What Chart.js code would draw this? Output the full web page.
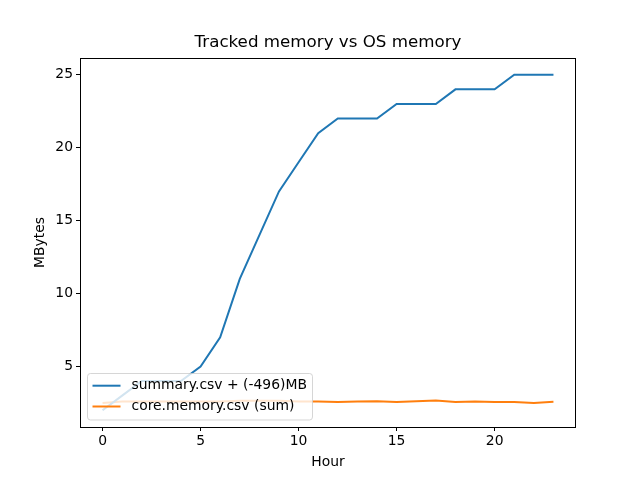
<!DOCTYPE html>
<html>
<head>
<meta charset="utf-8">
<script src="https://cdn.jsdelivr.net/npm/chart.js@4/dist/chart.umd.min.js"></script>
<style>
html,body{margin:0;padding:0;background:#fff;}
#wrap{width:640px;height:480px;}
</style>
</head>
<body>
<div id="wrap"><canvas id="c" width="640" height="480"></canvas></div>
<script>
const hours = [0,1,2,3,4,5,6,7,8,9,10,11,12,13,14,15,16,17,18,19,20,21,22,23];
const summaryMB = [2,3,4,4,4,5,7,11,14,17,19,21,22,22,22,23,23,23,24,24,24,25,25,25];
const coreMemorySum = [2.5,2.6,2.6,2.6,2.6,2.6,2.6,2.65,2.65,2.65,2.6,2.6,2.57,2.6,2.62,2.56,2.62,2.66,2.56,2.6,2.57,2.57,2.5,2.58];
const xTicks = [0,5,10,15,20];
const yTicks = [5,10,15,20,25];
const seriesNames = ["summary.csv + (-496)MB", "core.memory.csv (sum)"];
const titleText = "Tracked memory vs OS memory";
const xLabel = "Hour";
const yLabel = "MBytes";

const FONT = "'DejaVu Sans', sans-serif";
const colors = ["#1f77b4", "#ff7f0e"];

const decor = {
  id: 'decor',
  afterDatasetsDraw(chart) {
    const ctx = chart.ctx, a = chart.chartArea;
    ctx.save();
    // frame
    ctx.strokeStyle = '#000';
    ctx.lineWidth = 1;
    ctx.strokeRect(Math.round(a.left)+0.5, Math.round(a.top)+0.5, Math.round(a.right-a.left)-1, Math.round(a.bottom-a.top));
    // title
    ctx.fillStyle = '#000';
    ctx.font = '16.7px ' + FONT;
    ctx.textAlign = 'center';
    ctx.textBaseline = 'middle';
    ctx.fillText(titleText, (a.left+a.right)/2, 43);
    // axis labels
    ctx.font = '13.9px ' + FONT;
    ctx.fillText(xLabel, (a.left+a.right)/2, 462);
    ctx.save();
    ctx.translate(40, (a.top+a.bottom)/2);
    ctx.rotate(-Math.PI/2);
    ctx.fillText(yLabel, 0, 0);
    ctx.restore();
    // legend
    const lx = 87.5, ly = 373.5, lw = 225, lh = 46.5, r = 3;
    ctx.beginPath();
    ctx.moveTo(lx+r, ly);
    ctx.lineTo(lx+lw-r, ly); ctx.quadraticCurveTo(lx+lw, ly, lx+lw, ly+r);
    ctx.lineTo(lx+lw, ly+lh-r); ctx.quadraticCurveTo(lx+lw, ly+lh, lx+lw-r, ly+lh);
    ctx.lineTo(lx+r, ly+lh); ctx.quadraticCurveTo(lx, ly+lh, lx, ly+lh-r);
    ctx.lineTo(lx, ly+r); ctx.quadraticCurveTo(lx, ly, lx+r, ly);
    ctx.closePath();
    ctx.fillStyle = 'rgba(255,255,255,0.8)';
    ctx.fill();
    ctx.strokeStyle = 'rgba(204,204,204,0.8)';
    ctx.lineWidth = 1;
    ctx.stroke();
    const rows = [385.7, 406.5];
    ctx.textAlign = 'left';
    ctx.font = '13.9px ' + FONT;
    for (let i = 0; i < 2; i++) {
      ctx.strokeStyle = colors[i];
      ctx.lineWidth = 2;
      ctx.beginPath();
      ctx.moveTo(92.5, rows[i]); ctx.lineTo(120.5, rows[i]);
      ctx.stroke();
      ctx.fillStyle = '#000';
      ctx.fillText(seriesNames[i], 131.5, rows[i]);
    }
    ctx.restore();
  }
};

new Chart(document.getElementById('c'), {
  type: 'line',
  data: {
    datasets: [
      { label: seriesNames[0], data: hours.map((h,i)=>({x:h, y:summaryMB[i]})), borderColor: colors[0], backgroundColor: colors[0], borderWidth: 2, pointRadius: 0, tension: 0, fill: false },
      { label: seriesNames[1], data: hours.map((h,i)=>({x:h, y:coreMemorySum[i]})), borderColor: colors[1], backgroundColor: colors[1], borderWidth: 2, pointRadius: 0, tension: 0, fill: false }
    ]
  },
  options: {
    responsive: false,
    animation: false,
    events: [],
    layout: { padding: { top: 58, right: 64, left: 0, bottom: 0 } },
    plugins: { legend: { display: false }, title: { display: false }, tooltip: { enabled: false } },
    scales: {
      x: {
        type: 'linear', min: -1.15, max: 24.15,
        afterBuildTicks: s => { s.ticks = xTicks.map(v => ({value: v})); },
        afterFit: s => { s.height = 53; },
        grid: { drawOnChartArea: false, drawTicks: true, tickLength: 4, color: '#000', tickColor: '#000' },
        border: { display: false },
        ticks: { color: '#000', font: { family: FONT, size: 13.9 }, padding: 2, maxRotation: 0 }
      },
      y: {
        type: 'linear', min: 0.85, max: 26.15,
        afterBuildTicks: s => { s.ticks = yTicks.map(v => ({value: v})); },
        afterFit: s => { s.width = 80; },
        grid: { drawOnChartArea: false, drawTicks: true, tickLength: 4, color: '#000', tickColor: '#000' },
        border: { display: false },
        ticks: { color: '#000', font: { family: FONT, size: 13.9 }, padding: 3 }
      }
    }
  },
  plugins: [decor]
});
</script>
</body>
</html>
